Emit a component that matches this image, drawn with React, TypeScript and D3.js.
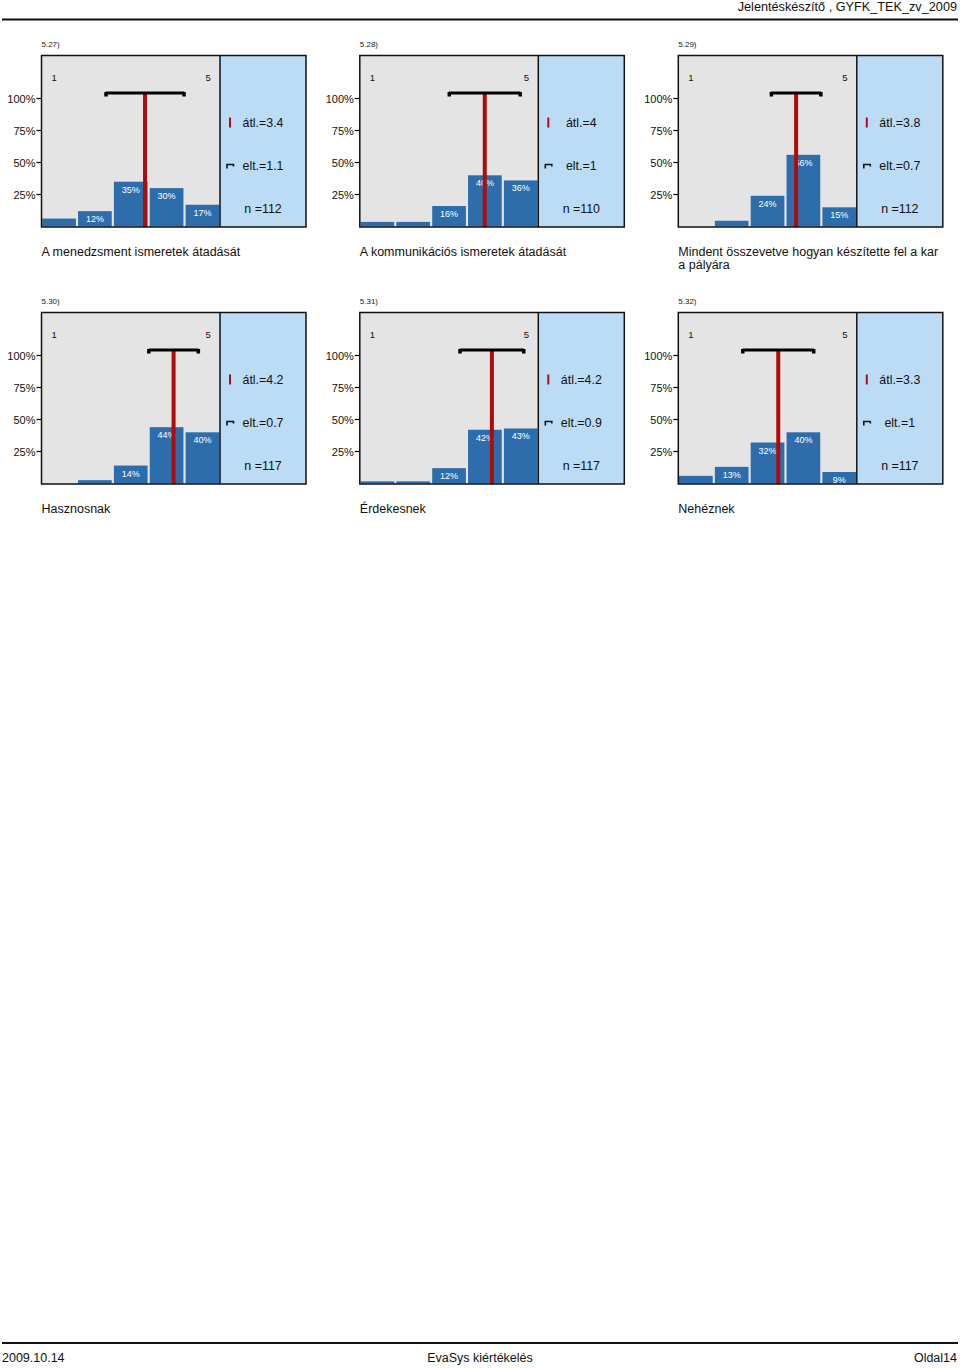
import React from "react";
import * as d3 from "d3";

const itemIds = ["5.27)", "5.28)", "5.29)", "5.30)", "5.31)", "5.32)"];
const titles = [
  ["A menedzsment ismeretek átadását"],
  ["A kommunikációs ismeretek átadását"],
  ["Mindent összevetve hogyan készítette fel a kar", "a pályára"],
  ["Hasznosnak"],
  ["Érdekesnek"],
  ["Nehéznek"],
];
const categories = [1, 2, 3, 4, 5];
const percents = [
  [6.2, 12, 35, 30, 17],
  [3.6, 3.6, 16, 40, 36],
  [0, 4.5, 24, 56, 15],
  [0, 2.6, 14, 44, 40],
  [1.7, 1.7, 12, 42, 43],
  [6, 13, 32, 40, 9],
];
const means = [3.4, 4, 3.8, 4.2, 4.2, 3.3];
const meanLabels = ["3.4", "4", "3.8", "4.2", "4.2", "3.3"];
const sds = [1.1, 1, 0.7, 0.7, 0.9, 1];
const sdLabels = ["1.1", "1", "0.7", "0.7", "0.9", "1"];
const ns = [112, 110, 112, 117, 117, 117];
const yTicks = [25, 50, 75, 100];

const FONT = "'Liberation Sans', Arial, sans-serif";
const panelXs = [41.5, 359.8, 678.3];
const rowTops = [55.5, 312.5];
const GW = 178.5;
const BW = 86;
const BOXH = 171.5;

function Panel({ i }: { i: number }) {
  const x0 = panelXs[i % 3];
  const top = rowTops[Math.floor(i / 3)];
  const y = d3.scaleLinear().domain([0, 100]).range([top + 171, top + 43]);
  const xb = d3.scaleBand<number>().domain(categories).range([x0, x0 + GW]).paddingInner(0.06).paddingOuter(0.02);
  const step = GW / 5;
  const xm = d3.scaleLinear().domain([1, 5]).range([x0 + step / 2, x0 + GW - step / 2]);
  const bx = x0 + GW;
  const bcx = bx + 43;
  const bracketY = top + 37.5;
  const m = means[i];
  const s = sds[i];
  return (
    <g>
      <text x={x0} y={top - 9} fontSize={8} fill="#222">{itemIds[i]}</text>
      <rect x={x0} y={top} width={GW} height={BOXH} fill="#e4e4e4" />
      <rect x={bx} y={top} width={BW} height={BOXH} fill="#bcdcf5" />
      <text x={x0 + 10} y={top + 25} fontSize={9.5} fill="#111">1</text>
      <text x={x0 + 164} y={top + 25} fontSize={9.5} fill="#111">5</text>
      {yTicks.map((t) => (
        <g key={t}>
          <line x1={x0 - 5} x2={x0} y1={y(t)} y2={y(t)} stroke="#000" strokeWidth={1.2} />
          <text x={x0 - 6} y={y(t) + 4} fontSize={11} textAnchor="end" fill="#111">{t}%</text>
        </g>
      ))}
      {categories.map((c, k) => {
        const v = percents[i][k];
        if (v <= 0) return null;
        return (
          <g key={c}>
            <rect x={xb(c)} y={y(v)} width={xb.bandwidth()} height={y(0) - y(v)} fill="#2e6dab" />
            {v >= 8 && (
              <text x={(xb(c) as number) + xb.bandwidth() / 2} y={y(v) + 11} fontSize={9} fill="#fff" textAnchor="middle">
                {Math.round(v)}%
              </text>
            )}
          </g>
        );
      })}
      <line x1={xm(m)} x2={xm(m)} y1={bracketY} y2={top + BOXH} stroke="#ae0b0b" strokeWidth={4} />
      <line x1={xm(m - s)} x2={xm(m + s)} y1={bracketY} y2={bracketY} stroke="#000" strokeWidth={3} />
      <rect x={xm(m - s) - 1.5} y={bracketY - 1} width={3.5} height={4.5} fill="#000" />
      <rect x={xm(m + s) - 2} y={bracketY - 1} width={3.5} height={4.5} fill="#000" />
      <rect x={x0} y={top} width={GW + BW} height={BOXH} fill="none" stroke="#111" strokeWidth={1.5} />
      <line x1={bx} x2={bx} y1={top} y2={top + BOXH} stroke="#111" strokeWidth={1.5} />
      <rect x={bx + 9} y={top + 62} width={2} height={10} fill="#b40d0d" />
      <text x={bcx} y={top + 71.5} fontSize={12.4} textAnchor="middle" fill="#111">átl.={meanLabels[i]}</text>
      <path d={`M${bx + 7},${top + 113} v-4 h6.5 v2`} fill="none" stroke="#111" strokeWidth={1.6} />
      <text x={bcx} y={top + 114.5} fontSize={12.4} textAnchor="middle" fill="#111">elt.={sdLabels[i]}</text>
      <text x={bcx} y={top + 157.5} fontSize={12.4} textAnchor="middle" fill="#111">n ={ns[i]}</text>
      {titles[i].map((t, k) => (
        <text key={k} x={x0} y={top + 200 + k * 13} fontSize={12.5} fill="#111">{t}</text>
      ))}
    </g>
  );
}

export default function App() {
  return (
    <svg width={960} height={1368} style={{ position: "absolute", left: 0, top: 0, fontFamily: FONT }}>
      <rect width={960} height={1368} fill="#fff" />
      <text x={957} y={11} fontSize={12.7} textAnchor="end" fill="#111">Jelentéskészítő , GYFK_TEK_zv_2009</text>
      <line x1={2} x2={958} y1={19.5} y2={19.5} stroke="#111" strokeWidth={2} />
      {itemIds.map((_, i) => (
        <Panel key={i} i={i} />
      ))}
      <line x1={2} x2={958} y1={1343} y2={1343} stroke="#111" strokeWidth={2} />
      <text x={2} y={1362} fontSize={12.5} fill="#111">2009.10.14</text>
      <text x={480} y={1362} fontSize={12.5} textAnchor="middle" fill="#111">EvaSys kiértékelés</text>
      <text x={957} y={1362} fontSize={12.5} textAnchor="end" fill="#111">Oldal14</text>
    </svg>
  );
}
